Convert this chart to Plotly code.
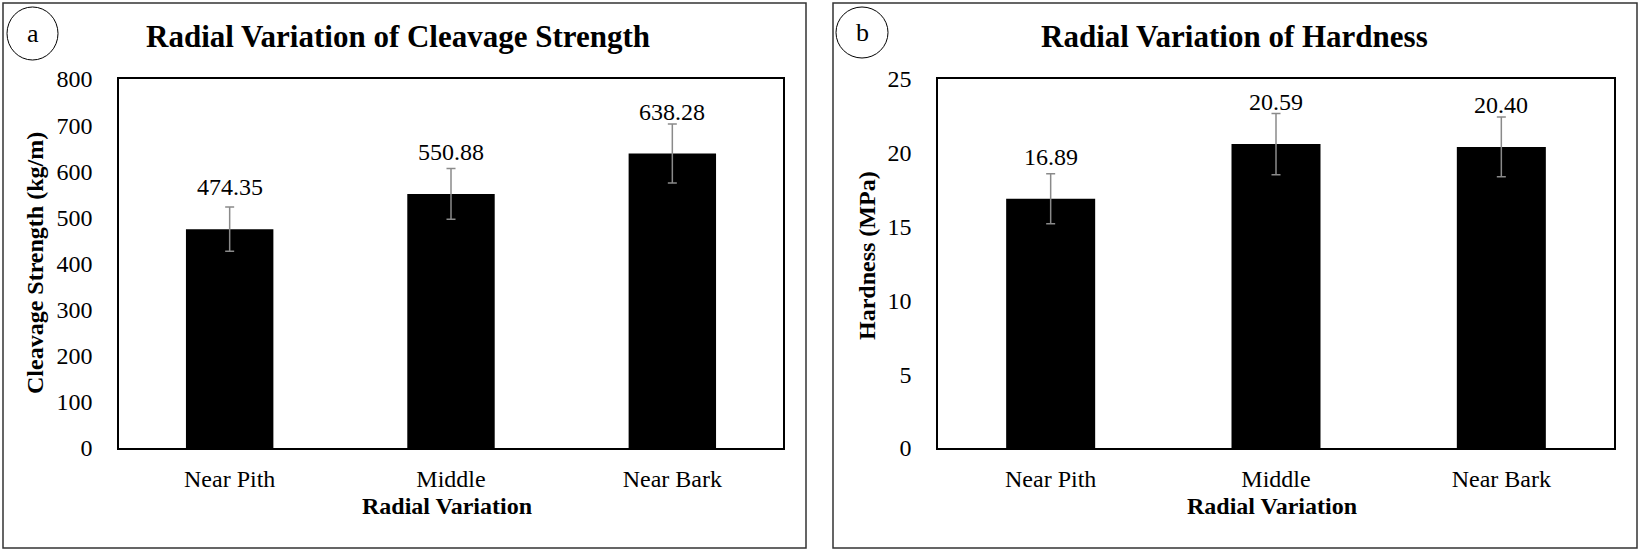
import plotly.graph_objects as go

categories = ["Near Pith", "Middle", "Near Bark"]
cleavage = [474.35, 550.88, 638.28]
cleavage_err = [48, 55, 64]
hardness = [16.89, 20.59, 20.40]
hardness_err = [1.69, 2.07, 2.03]
cleavage_ticks = [0, 100, 200, 300, 400, 500, 600, 700, 800]
hardness_ticks = [0, 5, 10, 15, 20, 25]

W, H = 1639, 552
FONT = "Liberation Serif, Times New Roman, serif"


def px(x):
    return x / W


def py(y):
    return 1 - y / H


fig = go.Figure()
fig.add_trace(go.Bar(
    x=categories, y=cleavage, marker=dict(color="black", line=dict(width=0)),
    error_y=dict(type="data", array=cleavage_err, color="#8a8a8a", thickness=1.5, width=4.5),
    xaxis="x", yaxis="y", showlegend=False,
))
fig.add_trace(go.Bar(
    x=categories, y=hardness, marker=dict(color="black", line=dict(width=0)),
    error_y=dict(type="data", array=hardness_err, color="#8a8a8a", thickness=1.5, width=4.5),
    xaxis="x2", yaxis="y2", showlegend=False,
))

axis_common = dict(showline=True, linecolor="black", linewidth=1.5, mirror=True,
                   showgrid=False, zeroline=False, ticks="", automargin=False,
                   tickfont=dict(family=FONT, size=24, color="black"))

fig.update_layout(
    width=W, height=H, margin=dict(l=0, r=0, t=0, b=0, autoexpand=False),
    paper_bgcolor="white", plot_bgcolor="white", bargap=0.605,
    xaxis=dict(domain=[px(119), px(783)], anchor="y", ticklabelstandoff=8, **axis_common),
    yaxis=dict(domain=[py(448), py(79)], anchor="x", range=[0, 800], tickvals=cleavage_ticks,
               ticklabelstandoff=20, **axis_common),
    xaxis2=dict(domain=[px(938), px(1614)], anchor="y2", ticklabelstandoff=8, **axis_common),
    yaxis2=dict(domain=[py(448), py(79)], anchor="x2", range=[0, 25], tickvals=hardness_ticks,
                ticklabelstandoff=20, **axis_common),
)

ann = []
# data labels
for xa, ya, vals, fmt in [("x", "y", cleavage, "{:.2f}"), ("x2", "y2", hardness, "{:.2f}")]:
    for c, v in zip(categories, vals):
        ann.append(dict(x=c, y=v, xref=xa, yref=ya, text=fmt.format(v), showarrow=False,
                        yshift=42, xanchor="center", yanchor="middle",
                        font=dict(family=FONT, size=24, color="black")))

bold = dict(family=FONT, size=24, color="black")
# titles
ann.append(dict(x=px(398), y=py(37), xref="paper", yref="paper", showarrow=False,
                text="<b>Radial Variation of Cleavage Strength</b>",
                font=dict(family=FONT, size=31, color="black"), xanchor="center", yanchor="middle"))
ann.append(dict(x=px(1234), y=py(37), xref="paper", yref="paper", showarrow=False,
                text="<b>Radial Variation of Hardness</b>",
                font=dict(family=FONT, size=31, color="black"), xanchor="center", yanchor="middle"))
# axis titles
ann.append(dict(x=px(447), y=py(506), xref="paper", yref="paper", showarrow=False,
                text="<b>Radial Variation</b>", font=bold, xanchor="center", yanchor="middle"))
ann.append(dict(x=px(1272), y=py(506), xref="paper", yref="paper", showarrow=False,
                text="<b>Radial Variation</b>", font=bold, xanchor="center", yanchor="middle"))
ann.append(dict(x=px(35), y=py(263), xref="paper", yref="paper", showarrow=False, textangle=-90,
                text="<b>Cleavage Strength (kg/m)</b>", font=bold, xanchor="center", yanchor="middle"))
ann.append(dict(x=px(867), y=py(256), xref="paper", yref="paper", showarrow=False, textangle=-90,
                text="<b>Hardness (MPa)</b>", font=bold, xanchor="center", yanchor="middle"))
# panel letters
ann.append(dict(x=px(32.5), y=py(33), xref="paper", yref="paper", showarrow=False, text="a",
                font=dict(family=FONT, size=26, color="black"), xanchor="center", yanchor="middle"))
ann.append(dict(x=px(862), y=py(32.5), xref="paper", yref="paper", showarrow=False, text="b",
                font=dict(family=FONT, size=26, color="black"), xanchor="center", yanchor="middle"))
fig.update_layout(annotations=ann)

shapes = [
    dict(type="rect", xref="paper", yref="paper", x0=px(3), x1=px(806), y0=py(548), y1=py(3),
         line=dict(color="#333333", width=1.5)),
    dict(type="rect", xref="paper", yref="paper", x0=px(833), x1=px(1637), y0=py(548), y1=py(3),
         line=dict(color="#333333", width=1.5)),
    dict(type="circle", xref="paper", yref="paper", x0=px(7), x1=px(58), y0=py(60), y1=py(7),
         line=dict(color="black", width=1)),
    dict(type="circle", xref="paper", yref="paper", x0=px(836), x1=px(888), y0=py(58), y1=py(7),
         line=dict(color="black", width=1)),
]
fig.update_layout(shapes=shapes)

fig.write_html("out.html", config={"displayModeBar": False},
               post_script="document.body.style.margin='0';document.body.style.overflow='hidden';")
